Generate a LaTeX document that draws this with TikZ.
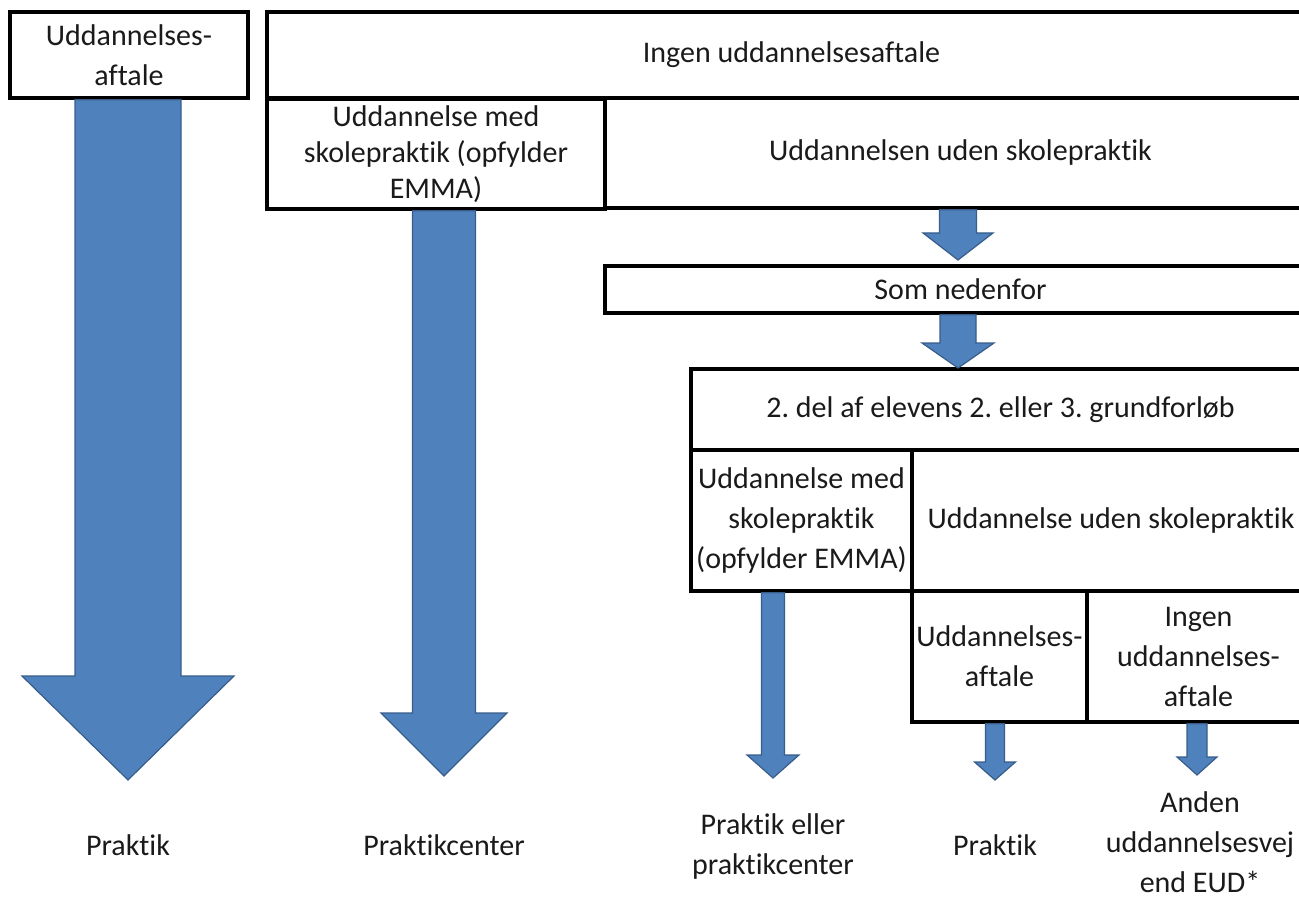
\documentclass[tikz,border=0pt]{standalone}
\usepackage{fontspec}
\setmainfont{Carlito}[Ligatures={NoCommon}]
\usetikzlibrary{calc}
\frenchspacing
\definecolor{arrowfill}{HTML}{4F81BD}
\definecolor{arrowline}{HTML}{385D8A}
\definecolor{txt}{HTML}{1A1A1A}
\tikzset{
  cellbox/.style={draw=black, line width=1.8pt, inner sep=0pt, align=center, text=txt,
    font=\fontsize{15pt}{20pt}\selectfont},
  lbl/.style={inner sep=0pt, align=center, text=txt, font=\fontsize{15pt}{20pt}\selectfont},
  blockarrow/.style={fill=arrowfill, draw=arrowline, line width=0.6pt, line join=miter}
}
% #1 start anchor (gives y), #2 tip coordinate (gives x and tip y), #3 shaft half width, #4 head half width, #5 head length
\newcommand\blockarr[5]{%
  \filldraw[blockarrow] let \p1=(#1), \p2=(#2) in
    (\x2-#3,\y1) -- (\x2+#3,\y1) -- (\x2+#3,\y2+#5) -- (\x2+#4,\y2+#5) -- (\x2,\y2)
    -- (\x2-#4,\y2+#5) -- (\x2-#3,\y2+#5) -- cycle;}
\begin{document}
\begin{tikzpicture}[x=0.5pt, y=-0.5pt]
\useasboundingbox (0,0) rectangle (1299,898);
\clip (0,0) rectangle (1299,898);

% boxes
\node[cellbox, minimum width=119pt, minimum height=43pt] (A) at (129,55) {Uddannelses-\\aftale};
\node[cellbox, minimum width=524.5pt, minimum height=43pt] (B) at (791.5,55) {Ingen uddannelsesaftale};
\node[cellbox, minimum width=169pt, minimum height=55pt, font=\fontsize{15pt}{18pt}\selectfont] (C) at (436,154) {Uddannelse med\\skolepraktik (opfylder\\EMMA)};
\node[cellbox, minimum width=355.5pt, minimum height=55pt] (D) at (960.5,153) {Uddannelsen uden skolepraktik};
\node[cellbox, minimum width=355.5pt, minimum height=23.5pt] (E) at (960.5,289.5) {Som nedenfor};
\node[cellbox, minimum width=309.5pt, minimum height=40.5pt] (F) at (1000.5,409.5) {2. del af elevens 2. eller 3. grundforløb};
\node[cellbox, minimum width=110.5pt, minimum height=70.5pt] (G) at (801.5,520.5) {Uddannelse med\\skolepraktik\\(opfylder EMMA)};
\node[cellbox, minimum width=199pt, minimum height=70.5pt] (H) at (1111,520.5) {Uddannelse uden skolepraktik};
\node[cellbox, minimum width=87.5pt, minimum height=65.5pt] (I) at (999.5,656.5) {Uddannelses-\\aftale};
\node[cellbox, minimum width=111.5pt, minimum height=65.5pt] (J) at (1198.5,656.5) {Ingen\\uddannelses-\\aftale};

% outcome labels
\node[lbl] (L1) at (128,845) {Praktik};
\node[lbl] (L2) at (444,845) {Praktikcenter};
\node[lbl] (L3) at (773,846) {Praktik eller\\praktikcenter};
\node[lbl] (L4) at (995,845) {Praktik};
\node[lbl] (L5) at (1200,842) {Anden\\uddannelsesvej\\end EUD*};

% arrow tips
\coordinate (t1) at (128,780);
\coordinate (t2) at (444,776);
\coordinate (t3) at (958,260);
\coordinate (t4) at (958,368);
\coordinate (t5) at (773,778);
\coordinate (t6) at (995,780);
\coordinate (t7) at (1197,775);

% block arrows from box to box / outcome
\blockarr{A.south}{t1}{26.5pt}{53pt}{52pt}
\blockarr{C.south}{t2}{15.75pt}{31.5pt}{31.5pt}
\blockarr{D.south}{t3}{9.25pt}{17.5pt}{13.5pt}
\blockarr{E.south}{t4}{9pt}{18pt}{12.5pt}
\blockarr{G.south}{t5}{5.75pt}{13pt}{11.5pt}
\blockarr{I.south}{t6}{4.75pt}{10.25pt}{9pt}
\blockarr{J.south}{t7}{5pt}{10pt}{9pt}
\end{tikzpicture}
\end{document}
